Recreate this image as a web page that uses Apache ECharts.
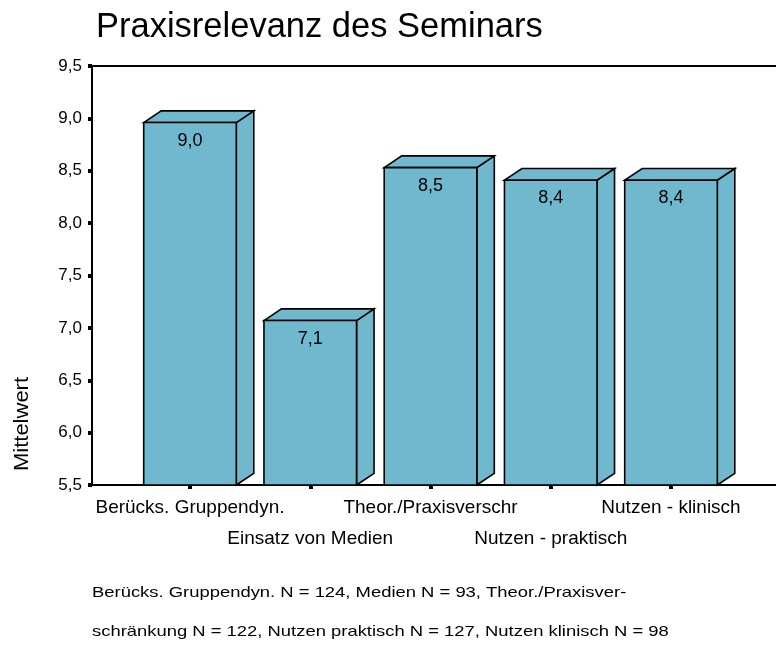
<!DOCTYPE html>
<html>
<head>
<meta charset="utf-8">
<script src="https://cdn.jsdelivr.net/npm/echarts@6/dist/echarts.min.js"></script>
<style>html,body{margin:0;padding:0;background:#fff}#c{width:776px;height:646px}</style>
</head>
<body>
<div id="c"></div>
<script>
const categories = ['Berücks. Gruppendyn.', 'Einsatz von Medien', 'Theor./Praxisverschr', 'Nutzen - praktisch', 'Nutzen - klinisch'];
const values = [8.96, 7.07, 8.53, 8.41, 8.41];
const yTicks = [5.5, 6.0, 6.5, 7.0, 7.5, 8.0, 8.5, 9.0, 9.5];
const titleText = 'Praxisrelevanz des Seminars';
const yName = 'Mittelwert';
const footer = ['Berücks. Gruppendyn. N = 124, Medien N = 93, Theor./Praxisver-',
                'schränkung N = 122, Nutzen praktisch N = 127, Nutzen klinisch N = 98'];

const FONT = 'Liberation Sans, Arial, sans-serif';
const fmt = v => v.toFixed(1).replace('.', ',');
const chart = echarts.init(document.getElementById('c'), null, {renderer: 'canvas'});
const GT = 66, GB = 646 - 485;
const DX = 17.5, DY = -11.7;
const FILL = '#6fb8ce';

chart.setOption({
  animation: false,
  backgroundColor: '#fff',
  title: {text: titleText, left: 91, top: 5,
    textStyle: {fontFamily: FONT, fontSize: 34.5, fontWeight: 'normal', color: '#000'}},
  grid: [
    {left: 92, right: 0, top: GT, bottom: GB},
    {left: 190, right: 105, top: GT, bottom: GB}
  ],
  xAxis: [
    {gridIndex: 0, type: 'value', min: 0, max: 1, position: 'bottom',
      axisLine: {show: true, lineStyle: {color: '#000', width: 2}},
      axisTick: {show: false}, axisLabel: {show: false}, splitLine: {show: false}},
    {gridIndex: 0, type: 'value', min: 0, max: 1, position: 'top',
      axisLine: {show: true, lineStyle: {color: '#000', width: 2}},
      axisTick: {show: false}, axisLabel: {show: false}, splitLine: {show: false}},
    {gridIndex: 1, type: 'category', data: categories, boundaryGap: false,
      axisLine: {show: false},
      axisTick: {show: true, inside: false, length: 4, lineStyle: {color: '#000', width: 4}},
      axisLabel: {interval: 0, margin: 7, fontFamily: FONT, fontSize: 19, color: '#000', lineHeight: 31,
        formatter: (v, i) => (i % 2 ? '\n' + v : v)},
      splitLine: {show: false}}
  ],
  yAxis: [
    {gridIndex: 0, type: 'value', min: 5.5, max: 9.5, interval: 0.5,
      axisLine: {show: true, lineStyle: {color: '#000', width: 2}},
      axisTick: {show: true, inside: false, length: 4, lineStyle: {color: '#000', width: 4}},
      axisLabel: {margin: 10, fontFamily: FONT, fontSize: 17, color: '#000', formatter: v => fmt(v)},
      splitLine: {show: false}},
    {gridIndex: 1, type: 'value', min: 5.5, max: 9.5, interval: 0.5, show: false}
  ],
  series: [{
    type: 'custom',
    xAxisIndex: 2, yAxisIndex: 1,
    data: values.map((v, i) => [i, v]),
    renderItem: (params, api) => {
      const top = api.coord([api.value(0), api.value(1)]);
      const base = api.coord([api.value(0), 5.5]);
      const w = api.size([1, 0])[0] * 0.77;
      const x0 = top[0] - w / 2, x1 = top[0] + w / 2;
      const yT = top[1], yB = base[1];
      const st = {fill: FILL, stroke: '#000', lineWidth: 1.6, lineJoin: 'miter'};
      return {type: 'group', children: [
        {type: 'polygon', shape: {points: [[x1, yB], [x1 + DX, yB + DY], [x1 + DX, yT + DY], [x1, yT]]}, style: st},
        {type: 'polygon', shape: {points: [[x0, yT], [x0 + DX, yT + DY], [x1 + DX, yT + DY], [x1, yT]]}, style: st},
        {type: 'rect', shape: {x: x0, y: yT, width: w, height: yB - yT}, style: st},
        {type: 'text', style: {text: fmt(api.value(1)), x: top[0], y: yT + 18, align: 'center', verticalAlign: 'middle',
          font: '18px ' + FONT, fill: '#000'}}
      ]};
    }
  }],
  graphic: [
    {type: 'text', x: 22, y: 424, rotation: Math.PI / 2,
      style: {text: yName, font: '20px ' + FONT, fill: '#000', align: 'center', verticalAlign: 'middle'},
      scaleX: 1.1},
    {type: 'text', x: 92, y: 593, scaleX: 1.27,
      style: {text: footer[0], font: '14.5px ' + FONT, fill: '#000', verticalAlign: 'middle'}},
    {type: 'text', x: 92, y: 632, scaleX: 1.27,
      style: {text: footer[1], font: '14.5px ' + FONT, fill: '#000', verticalAlign: 'middle'}}
  ]
});
</script>
</body>
</html>
